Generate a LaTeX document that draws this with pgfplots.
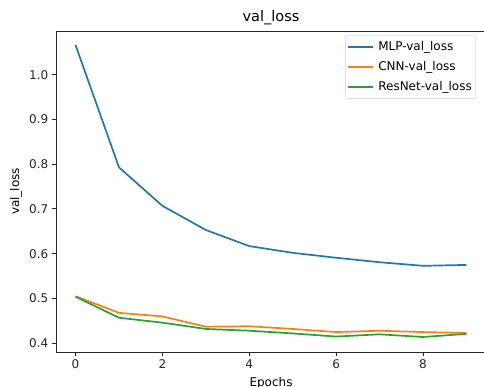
\documentclass[border=0pt]{standalone}
\usepackage{fontspec}
\setmainfont{DejaVu Sans}
\usepackage{pgfplots}
\pgfplotsset{compat=1.18}
\definecolor{tabblue}{HTML}{1F77B4}
\definecolor{taborange}{HTML}{FF7F0E}
\definecolor{tabgreen}{HTML}{2CA02C}
\begin{document}
\begin{tikzpicture}
\path[use as bounding box] (-56pt,-35pt) rectangle (428pt,352pt);
\begin{axis}[
  at={(0,0)}, anchor=south west,
  scale only axis, width=430pt, height=321pt,
  xmin=-0.45, xmax=9.45, ymin=0.3805, ymax=1.0975,
  xtick={0,2,4,6,8}, ytick={0.4,0.5,0.6,0.7,0.8,0.9,1.0},
  yticklabel style={/pgf/number format/.cd, fixed, fixed zerofill, precision=1},
  /pgf/number format/assume math mode=true,
  tick label style={font=\fontsize{12}{14}\selectfont, black!85},
  tick align=outside, tick pos=left,
  major tick length=4.2pt,
  every tick/.style={black!85, line width=0.96pt},
  axis line style={line width=0.96pt, black!85},
  every axis title shift=0pt,
  title={val\_loss},
  title style={font=\fontsize{14.5}{17}\selectfont, at={(axis description cs:0.5,1.0405)}, anchor=center, yshift=0pt},
  xlabel={Epochs}, ylabel={val\_loss},
  xlabel style={font=\fontsize{12}{14}\selectfont, at={(axis description cs:0.5,-0.0966)}, anchor=center},
  ylabel style={font=\fontsize{12}{14}\selectfont, at={(axis description cs:-0.093,0.5)}, anchor=center},
  legend style={at={(1,1)}, anchor=north east, xshift=-10pt, yshift=-4pt,
    draw=black!20, rounded corners=2pt, font=\fontsize{12}{14}\selectfont,
    /tikz/row sep=0pt, /tikz/column sep=2pt, inner sep=2pt, nodes={inner ysep=4.6pt}},
  legend cell align=left,
  legend image code/.code={\draw[mark repeat=2,mark phase=2,#1] plot coordinates {(0pt,0pt) (12.5pt,0pt) (25pt,0pt)};},
]
\addplot[color=tabblue, line width=1.7pt] coordinates {(0,1.066) (1,0.793) (2,0.707) (3,0.653) (4,0.617) (5,0.602) (6,0.591) (7,0.581) (8,0.573) (9,0.575)};
\addlegendentry{MLP-val\_loss}
\addplot[color=taborange, line width=1.7pt] coordinates {(0,0.505) (1,0.468) (2,0.460) (3,0.437) (4,0.438) (5,0.432) (6,0.425) (7,0.428) (8,0.425) (9,0.423)};
\addlegendentry{CNN-val\_loss}
\addplot[color=tabgreen, line width=1.7pt] coordinates {(0,0.504) (1,0.457) (2,0.446) (3,0.432) (4,0.428) (5,0.422) (6,0.415) (7,0.420) (8,0.414) (9,0.421)};
\addlegendentry{ResNet-val\_loss}
\end{axis}
\end{tikzpicture}
\end{document}
